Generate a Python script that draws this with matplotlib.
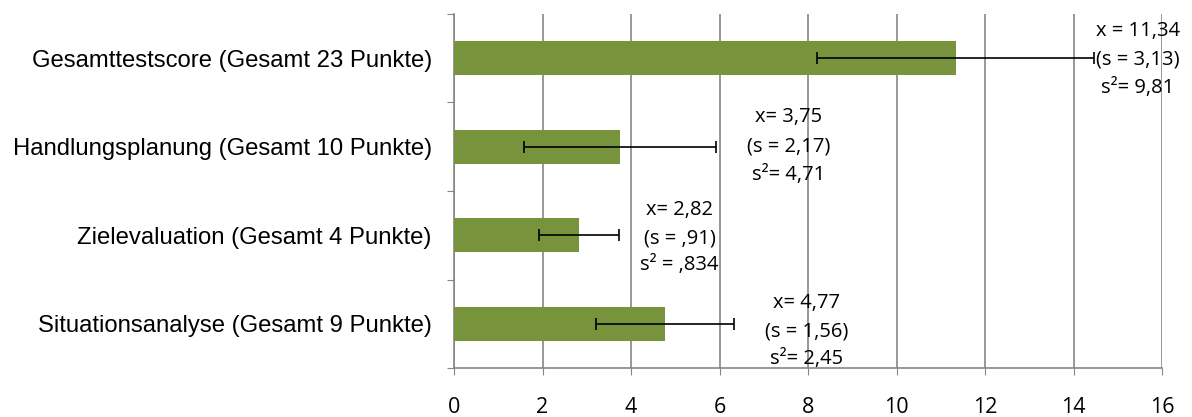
import numpy as np
import matplotlib.pyplot as plt

categories = ['Gesamttestscore (Gesamt 23 Punkte)', 'Handlungsplanung (Gesamt 10 Punkte)',
              'Zielevaluation (Gesamt 4 Punkte)', 'Situationsanalyse (Gesamt 9 Punkte)']
means = [11.34, 3.75, 2.82, 4.77]
sds = [3.13, 2.17, 0.91, 1.56]
notes = [['x = 11,34', '(s = 3,13)', 's²= 9,81'],
         ['x= 3,75', '(s = 2,17)', 's²= 4,71'],
         ['x= 2,82', '(s = ,91)', 's² = ,834'],
         ['x= 4,77', '(s = 1,56)', 's²= 2,45']]

# label placement (data units)
note_x = [15.45, 7.56, 5.1, 7.96]
note_dy = [[-0.31, 0.01, 0.34], [-0.34, 0.0, 0.32],
           [-0.29, 0.034, 0.34], [-0.24, 0.09, 0.40]]

fig = plt.figure(figsize=(11.92, 4.17), dpi=100)
ax = fig.add_axes([454/1192, 1-368/417, (1162-454)/1192, (368-14)/417])

y = np.arange(len(categories))
ax.barh(y, means, height=0.38, color='#77933C', zorder=3)
ax.errorbar(means, y, xerr=sds, fmt='none', ecolor='black', elinewidth=1.2,
            capsize=4, capthick=1.2, zorder=4)

for i in range(len(categories)):
    for line, dy in zip(notes[i], note_dy[i]):
        ax.text(note_x[i], y[i] + dy, line, ha='center', va='center',
                fontsize=14.5, family='Open Sans', zorder=5)

ax.set_xlim(0, 16)
ax.set_ylim(len(categories) - 0.5, -0.5)
ax.set_xticks(np.arange(0, 17, 2))
ax.set_xticklabels([str(v) for v in range(0, 17, 2)], family='Open Sans', fontsize=15.5)
ax.set_yticks(np.arange(-0.5, len(categories), 1), minor=False)
ax.set_yticklabels([])
ax.set_yticks(y, minor=True)
ax.set_yticklabels(categories, minor=True, family='Liberation Sans', fontsize=17.2)
ax.tick_params(axis='y', which='minor', length=0, pad=16)
ax.tick_params(axis='y', which='major', length=5, color='#868686')
ax.tick_params(axis='x', length=5, color='#868686', pad=16)

ax.grid(axis='x', color='#868686', linewidth=1.2, zorder=0)
for s in ['top', 'right']:
    ax.spines[s].set_visible(False)
for s in ['left', 'bottom']:
    ax.spines[s].set_color('#868686')
    ax.spines[s].set_linewidth(1.2)

fig.savefig('out.png', dpi=100)
